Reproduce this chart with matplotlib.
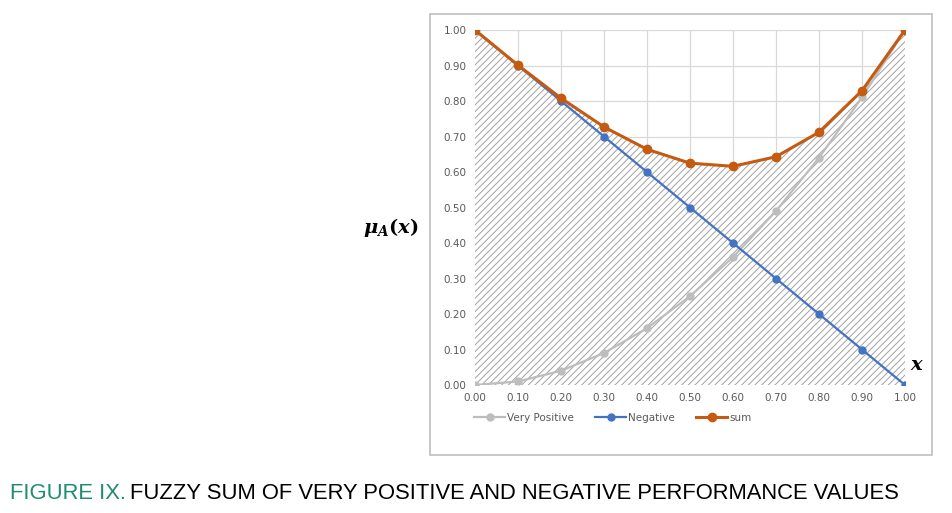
import numpy as np
import matplotlib
matplotlib.use("Agg")
import matplotlib.pyplot as plt
from matplotlib.patches import Rectangle

plt.rcParams['mathtext.fontset'] = 'custom'
plt.rcParams['mathtext.it'] = 'DejaVu Serif:italic:bold'
plt.rcParams['mathtext.rm'] = 'DejaVu Serif:bold'
plt.rcParams['hatch.linewidth'] = 0.7

# data
x_vals = [0.0, 0.1, 0.2, 0.3, 0.4, 0.5, 0.6, 0.7, 0.8, 0.9, 1.0]
very_positive = [0.00, 0.01, 0.04, 0.09, 0.16, 0.25, 0.36, 0.49, 0.64, 0.81, 1.00]
negative = [1.00, 0.90, 0.80, 0.70, 0.60, 0.50, 0.40, 0.30, 0.20, 0.10, 0.00]
fuzzy_sum = [1.00, 0.901, 0.808, 0.727, 0.664, 0.625, 0.616, 0.643, 0.712, 0.829, 1.00]
tick_vals = [0.0, 0.1, 0.2, 0.3, 0.4, 0.5, 0.6, 0.7, 0.8, 0.9, 1.0]

fig = plt.figure(figsize=(9.53, 5.13), dpi=100)

# chart area border
fig.patches.append(Rectangle((0.451, 0.113), 0.527, 0.86, transform=fig.transFigure,
                             fill=False, edgecolor='#bfbfbf', linewidth=1.2))

ax = fig.add_axes([0.4984, 0.2495, 0.4512, 0.692])
ax.fill_between(x_vals, 0, fuzzy_sum, facecolor='white', edgecolor='#a0a0a0',
                hatch='/////', linewidth=0, zorder=2)
ax.plot(x_vals, very_positive, color='#bdbdbd', lw=1.6, marker='o', ms=5,
        zorder=2.5, label='Very Positive')
ax.plot(x_vals, negative, color='#4472c4', lw=1.6, marker='o', ms=5,
        zorder=3, label='Negative')
ax.plot(x_vals, fuzzy_sum, color='#c55a11', lw=2.2, marker='o', ms=6,
        zorder=4, label='sum')

ax.set_xlim(0, 1)
ax.set_ylim(0, 1)
ax.set_xticks(tick_vals)
ax.set_yticks(tick_vals)
ax.set_xticklabels([f"{t:.2f}" for t in tick_vals])
ax.set_yticklabels([f"{t:.2f}" for t in tick_vals])
ax.tick_params(length=0, labelsize=7.5, labelcolor='#595959', pad=6)
ax.grid(True, color='#d9d9d9', lw=0.9)
ax.set_axisbelow(True)
for s in ax.spines.values():
    s.set_visible(False)

fig.text(0.41, 0.557, r'$\mu_A(x)$', fontsize=14, ha='center', va='center')
fig.text(0.962, 0.29, r'$x$', fontsize=14, ha='center', va='center')

ax.legend(loc='upper left', bbox_to_anchor=(0.492, 0.205), bbox_transform=fig.transFigure,
          ncol=3, frameon=False, fontsize=7.5, labelcolor='#595959',
          handlelength=3, handletextpad=0.2, columnspacing=2.0, borderpad=0)

# caption in two colours
cap_font = ['Liberation Sans', 'DejaVu Sans']
t1 = fig.text(0.010, 0.038, 'FIGURE IX.', fontsize=15.8, color='#1e8c6e',
              family=cap_font, va='center', ha='left')
fig.canvas.draw()
bb = t1.get_window_extent()
x2 = bb.x1 / fig.bbox.width + 0.005
fig.text(x2, 0.038, 'FUZZY SUM OF VERY POSITIVE AND NEGATIVE PERFORMANCE VALUES',
         fontsize=15.8, color='black', family=cap_font, va='center', ha='left')

fig.savefig('out.png', dpi=100)
